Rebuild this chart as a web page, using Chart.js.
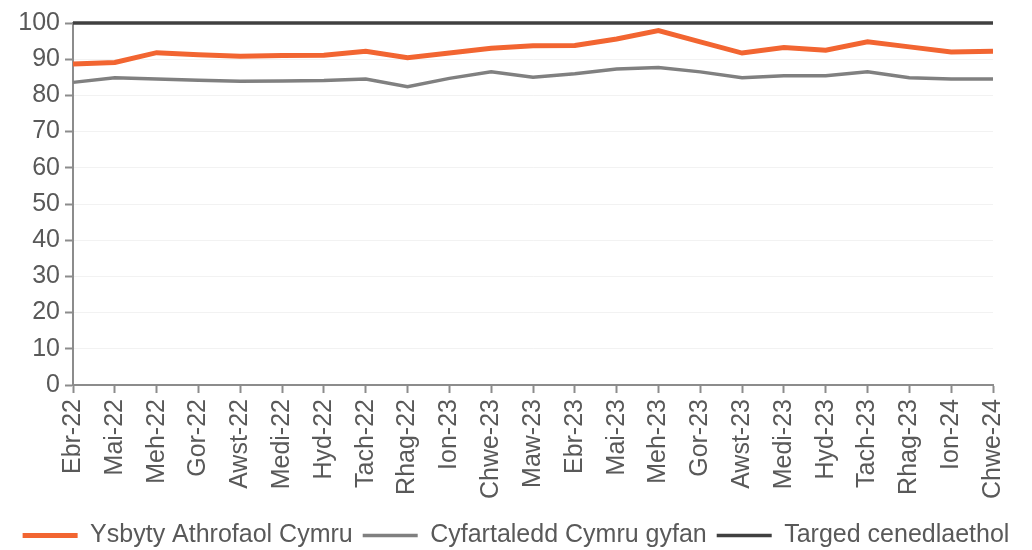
<!DOCTYPE html>
<html>
<head>
<meta charset="utf-8">
<script src="https://cdn.jsdelivr.net/npm/chart.js@4/dist/chart.umd.min.js"></script>
<style>
  html, body { margin: 0; padding: 0; background: #fff; }
  #wrap { width: 1032px; height: 550px; }
</style>
</head>
<body>
<div id="wrap"><canvas id="lineChart" width="1032" height="550"></canvas></div>
<script>
var months = ["Ebr-22", "Mai-22", "Meh-22", "Gor-22", "Awst-22", "Medi-22", "Hyd-22", "Tach-22",
  "Rhag-22", "Ion-23", "Chwe-23", "Maw-23", "Ebr-23", "Mai-23", "Meh-23", "Gor-23", "Awst-23",
  "Medi-23", "Hyd-23", "Tach-23", "Rhag-23", "Ion-24", "Chwe-24"];

// Ysbyty Athrofaol Cymru
var hospital = [88.7, 89.1, 91.8, 91.2, 90.8, 91.0, 91.1, 92.2, 90.4, 91.7, 93.0, 93.7, 93.8,
  95.6, 97.9, 94.8, 91.7, 93.2, 92.5, 94.8, 93.4, 92.0, 92.2];

// Cyfartaledd Cymru gyfan
var walesAvg = [83.6, 84.9, 84.5, 84.2, 83.9, 84.0, 84.1, 84.5, 82.4, 84.7, 86.5, 85.0, 86.0,
  87.3, 87.7, 86.5, 84.9, 85.4, 85.4, 86.5, 84.9, 84.5, 84.5];

// Targed cenedlaethol
var target = [100, 100, 100, 100, 100, 100, 100, 100, 100, 100, 100, 100, 100, 100, 100, 100,
  100, 100, 100, 100, 100, 100, 100];

var yMin = 0;
var yMax = 100;
var yStep = 10;

var textColor = "#595959";
var axisColor = "#8c8c8c";
var fontFamily = "'Liberation Sans', Arial, sans-serif";

Chart.defaults.font.family = fontFamily;
Chart.defaults.color = textColor;

var ctx = document.getElementById("lineChart").getContext("2d");
var myChart = new Chart(ctx, {
  type: "line",
  data: {
    labels: months,
    datasets: [
      {
        label: "Ysbyty Athrofaol Cymru",
        data: hospital,
        borderColor: "#f26531",
        backgroundColor: "#f26531",
        borderWidth: 5,
        pointRadius: 0,
        tension: 0,
      },
      {
        label: "Cyfartaledd Cymru gyfan",
        data: walesAvg,
        borderColor: "#808080",
        backgroundColor: "#808080",
        borderWidth: 3.5,
        pointRadius: 0,
        tension: 0,
      },
      {
        label: "Targed cenedlaethol",
        data: target,
        borderColor: "#404040",
        backgroundColor: "#404040",
        borderWidth: 3.5,
        pointRadius: 0,
        tension: 0,
        clip: 4,
      },
    ],
  },
  options: {
    responsive: false,
    animation: false,
    layout: {
      padding: { left: 0, right: 0, top: 23, bottom: -8 },
    },
    plugins: {
      tooltip: { enabled: false },
      legend: {
        position: "bottom",
        labels: {
          usePointStyle: true,
          pointStyle: "line",
          pointStyleWidth: 55,
          font: { size: 25 },
          color: textColor,
          padding: 10,
        },
      },
    },
    scales: {
      x: {
        offset: false,
        afterFit: function (scale) {
          scale.height = 128;
        },
        border: { color: axisColor, width: 2 },
        grid: {
          drawOnChartArea: false,
          drawTicks: true,
          tickLength: 8,
          tickColor: axisColor,
          tickWidth: 2,
        },
        ticks: {
          autoSkip: false,
          minRotation: 90,
          maxRotation: 90,
          padding: 6,
          font: { size: 25 },
          color: textColor,
        },
      },
      y: {
        min: yMin,
        max: yMax,
        afterFit: function (scale) {
          scale.width = 73;
        },
        border: { color: axisColor, width: 2 },
        grid: {
          color: "rgba(0,0,0,0.05)",
          lineWidth: 1,
          drawTicks: true,
          tickLength: 8,
          tickColor: axisColor,
          tickWidth: 2,
        },
        ticks: {
          stepSize: yStep,
          autoSkip: false,
          padding: 5,
          font: { size: 25 },
          color: textColor,
        },
      },
      // empty right-hand strip so the plot stops short of the canvas edge
      spacer: {
        type: "linear",
        position: "right",
        display: true,
        afterFit: function (scale) {
          scale.width = 39;
        },
        border: { display: false },
        grid: { display: false },
        ticks: { display: false },
      },
    },
  },
});
</script>
</body>
</html>
